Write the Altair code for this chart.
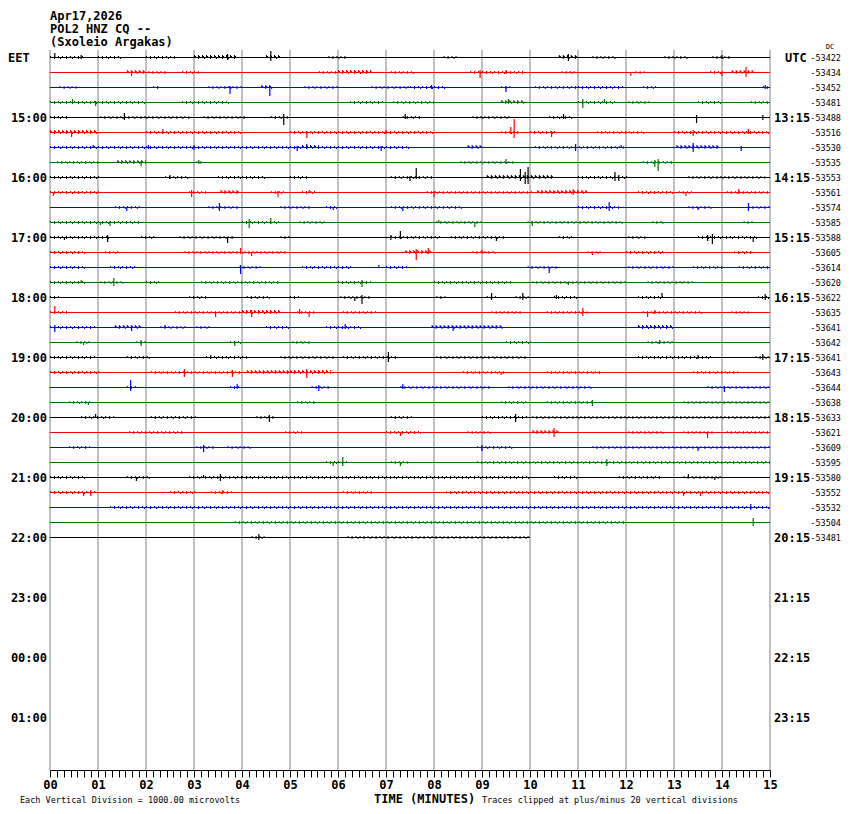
import altair as alt
import pandas as pd

# ---------------- data ----------------
TITLE_LINES = ["Apr17,2026", "POL2 HNZ CQ --", "(Sxoleio Argakas)"]
LEFT_LABELS = ["EET", "15:00", "16:00", "17:00", "18:00", "19:00", "20:00",
               "21:00", "22:00", "23:00", "00:00", "01:00"]
RIGHT_LABELS = ["UTC", "13:15", "14:15", "15:15", "16:15", "17:15", "18:15",
                "19:15", "20:15", "21:15", "22:15", "23:15"]
TRACE_VALUES = [-53422, -53434, -53452, -53481, -53488, -53516, -53530, -53535,
                -53553, -53561, -53574, -53585, -53588, -53605, -53614, -53620,
                -53622, -53635, -53641, -53642, -53641, -53643, -53644, -53638,
                -53633, -53621, -53609, -53595, -53580, -53552, -53532, -53504,
                -53481]
TRACE_COLORS = ["#000000", "#ff0000", "#0000ff", "#007000"]
TRACE_END = [15] * 32 + [10]
MINUTE_LABELS = list(range(16))

# noise windows per trace: (start minute, end minute, amplitude px)
BURSTS = [
    [(0, 0.7, 1), (1.0, 1.5, 1), (2.0, 2.6, 1), (3.0, 3.9, 2), (4.5, 4.8, 2), (5.8, 6.2, 1), (8.2, 8.5, 1), (10.6, 11.0, 2), (11.3, 11.8, 1), (12.8, 13.3, 1), (13.8, 14.2, 1)],
    [(1.6, 2.0, 2), (2.05, 2.45, 1), (2.75, 3.1, 1), (5.6, 6.0, 1), (6.0, 6.7, 2), (7.1, 7.6, 1), (8.75, 9.9, 1), (10.66, 11.0, 1), (12.2, 12.4, 1), (13.75, 14.0, 1), (14.2, 14.65, 2)],
    [(0.2, 0.55, 1), (2.15, 2.3, 1), (3.3, 4.0, 1), (4.4, 4.65, 2), (5.3, 6.0, 1), (6.7, 7.5, 1), (7.5, 8.25, 1), (9.4, 9.6, 1), (10.1, 11.0, 1), (11.0, 11.95, 1), (12.35, 12.65, 1), (14.85, 15, 1)],
    [(0, 2.0, 1), (2.75, 3.75, 1), (6.25, 6.95, 1), (7.15, 8.0, 1), (9.4, 9.9, 2), (11.0, 11.8, 1), (12.05, 12.5, 1), (13.5, 14.0, 1), (14.6, 15, 1)],
    [(0, 0.4, 1), (1.05, 2.9, 1), (3.2, 4.1, 1), (4.6, 4.95, 1), (7.35, 7.75, 1), (8.8, 9.6, 1), (10.4, 10.9, 1)],
    [(0, 1.0, 2), (2.0, 4.0, 1), (5.0, 7.5, 1), (7.5, 8.0, 1), (9.4, 9.8, 1), (10.0, 10.55, 1), (11.4, 12.4, 1), (13.0, 15, 1)],
    [(0, 7.5, 1), (5.25, 5.6, 2), (8.7, 9.0, 2), (10.1, 11.95, 1), (13.05, 13.95, 2)],
    [(0.15, 1.0, 1), (1.4, 2.0, 2), (3.05, 3.2, 1), (8.55, 9.65, 1), (12.35, 13.0, 1)],
    [(0, 1.05, 1), (2.4, 2.9, 1), (3.5, 4.5, 1), (5.0, 5.35, 1), (7.1, 8.0, 1), (9.1, 10.5, 2), (11.0, 12.05, 1), (13.3, 14.9, 1)],
    [(0, 1.05, 1), (2.9, 3.25, 1), (3.55, 3.95, 2), (4.6, 4.9, 1), (5.25, 5.55, 1), (7.85, 10.05, 1), (10.15, 11.2, 2), (12.25, 13.0, 1), (13.1, 13.4, 1), (14.1, 15, 1)],
    [(1.35, 1.9, 1), (3.3, 3.95, 1), (4.8, 5.45, 1), (5.75, 6.0, 1), (7.1, 8.6, 1), (11.0, 11.85, 1), (13.3, 13.8, 1), (14.55, 15, 1)],
    [(0, 1.9, 1), (4.0, 4.8, 1), (5.2, 5.75, 1), (8.05, 9.0, 1), (9.95, 11.95, 1), (12.55, 12.8, 1), (14.45, 14.65, 1)],
    [(0, 1.25, 1), (1.9, 2.2, 1), (2.7, 3.85, 1), (4.8, 5.0, 1), (7.1, 8.15, 1), (8.35, 9.5, 1), (10.6, 10.9, 1), (12.05, 12.4, 1), (13.5, 14.75, 1)],
    [(0, 0.75, 1), (1.15, 1.45, 1), (2.8, 4.9, 1), (7.4, 7.95, 2), (8.8, 9.3, 1), (11.2, 11.5, 1), (12.0, 12.8, 1), (14.25, 14.65, 1)],
    [(0, 0.75, 1), (1.25, 1.8, 1), (3.95, 4.4, 1), (5.25, 6.3, 1), (7.0, 7.45, 1), (9.95, 10.55, 1), (12.05, 13.0, 1), (13.4, 14.05, 1), (14.35, 15, 1)],
    [(0, 0.75, 1), (1.05, 1.55, 1), (2.0, 2.3, 1), (3.15, 4.8, 1), (6.0, 6.7, 1), (8.0, 9.6, 1), (10.05, 12.0, 1), (12.45, 13.4, 1)],
    [(0, 0.2, 1), (2.9, 3.25, 1), (4.1, 4.6, 1), (5.0, 5.2, 1), (6.05, 6.7, 1), (8.05, 8.25, 1), (9.1, 9.3, 1), (9.7, 10.0, 1), (10.5, 11.0, 1), (12.25, 12.8, 1), (14.75, 15, 1)],
    [(0, 0.4, 1), (2.6, 4.0, 1), (4.0, 4.8, 2), (5.15, 5.55, 1), (6.1, 6.8, 1), (9.2, 9.85, 1), (10.35, 11.2, 1), (12.35, 13.6, 1), (14.2, 14.55, 1)],
    [(0, 0.95, 1), (1.35, 1.9, 2), (2.3, 2.85, 1), (3.05, 3.35, 1), (4.5, 5.0, 1), (5.75, 6.5, 1), (7.95, 9.45, 2), (12.25, 13.0, 2)],
    [(0.55, 0.85, 1), (1.8, 2.0, 1), (3.75, 4.0, 1), (5.05, 5.45, 1), (9.5, 10.05, 1), (12.45, 13.0, 1)],
    [(0, 0.95, 1), (1.6, 2.1, 1), (3.25, 4.1, 1), (4.8, 5.95, 1), (6.1, 7.25, 1), (8.05, 9.95, 1), (12.25, 13.8, 1), (14.7, 15, 1)],
    [(0, 1.05, 1), (2.1, 4.0, 1), (4.1, 5.0, 2), (5.0, 5.85, 2), (8.6, 9.5, 1), (10.35, 11.5, 1), (13.4, 14.35, 1)],
    [(1.6, 1.8, 1), (3.75, 3.95, 1), (5.45, 5.85, 1), (7.3, 9.2, 1), (9.55, 11.3, 1), (13.7, 15, 1)],
    [(0.4, 0.85, 1), (5.15, 5.55, 1), (9.4, 9.95, 1), (10.35, 11.3, 1), (13.2, 15, 1)],
    [(0.65, 1.35, 1), (2.1, 3.05, 1), (4.3, 4.7, 1), (7.1, 7.55, 1), (9.0, 9.95, 1), (10.05, 15, 1)],
    [(1.65, 2.8, 1), (4.9, 5.25, 1), (7.0, 7.75, 1), (8.7, 9.2, 1), (10.05, 10.6, 2), (12.05, 12.8, 1), (13.2, 13.8, 1), (14.1, 15, 1)],
    [(0.4, 0.85, 1), (3.05, 3.45, 1), (3.7, 4.2, 1), (8.9, 9.65, 1), (11.3, 15, 1)],
    [(5.75, 6.2, 1), (7.1, 7.45, 1), (8.9, 15, 1)],
    [(0, 0.75, 1), (1.6, 2.1, 1), (2.9, 4.0, 1), (4.0, 10.0, 1), (10.5, 11.0, 1), (11.85, 12.75, 1), (13.2, 14.0, 1)],
    [(0, 0.95, 1), (2.5, 3.05, 1), (3.35, 3.8, 1), (6.1, 6.7, 1), (8.25, 15, 1)],
    [(1.25, 15, 1)],
    [(3.85, 12.0, 1)],
    [(4.2, 4.5, 1), (6.2, 10.0, 1)],
]

# spikes per trace: (minute, up px, down px)
SPIKES = [
    [(0.1, 4, 0), (0.65, 2, 1), (3.7, 3, 2), (4.6, 6, 3), (10.8, 3, 3), (14.0, 2, 1)],
    [(1.7, 1, 3), (8.96, 2, 5), (9.5, 2, 1), (12.1, 0, 3), (14.0, 1, 3), (14.5, 5, 4)],
    [(3.75, 1, 6), (4.58, 1, 8), (7.95, 2, 1), (9.5, 1, 4), (14.9, 2, 1)],
    [(0.47, 3, 1), (0.95, 1, 3), (9.55, 3, 1), (11.1, 3, 5), (11.55, 3, 0)],
    [(1.55, 4, 2), (4.87, 3, 7), (7.4, 3, 1), (10.7, 3, 1), (13.47, 2, 5), (14.85, 2, 2)],
    [(0.45, 1, 4), (2.35, 3, 1), (5.35, 1, 5), (7.0, 2, 1), (9.67, 13, 5), (9.6, 5, 1), (10.45, 1, 4), (13.4, 2, 3), (14.55, 3, 1)],
    [(0.9, 2, 0), (2.05, 2, 1), (3.0, 2, 2), (5.15, 1, 3), (5.35, 3, 1), (6.9, 1, 3), (10.95, 3, 3), (11.9, 2, 0), (13.4, 4, 4), (14.4, 1, 3)],
    [(1.9, 1, 3), (3.1, 2, 1), (9.5, 3, 1), (12.67, 3, 8), (12.6, 2, 4)],
    [(2.5, 2, 1), (7.63, 9, 1), (7.5, 1, 3), (9.8, 8, 3), (9.9, 5, 6), (9.96, 10, 6), (11.77, 5, 3), (11.85, 2, 3)],
    [(0.07, 0, 3), (2.95, 2, 4), (4.75, 1, 4), (5.4, 2, 0), (8.0, 1, 4), (10.9, 3, 2), (13.25, 0, 3), (14.35, 3, 1)],
    [(1.6, 0, 3), (3.53, 4, 3), (5.9, 0, 2), (7.35, 0, 3), (11.65, 5, 3), (13.5, 0, 2), (14.55, 4, 3)],
    [(1.05, 0, 2), (1.25, 1, 3), (4.15, 3, 5), (4.6, 4, 1), (8.1, 2, 0), (8.85, 0, 4), (10.05, 1, 3)],
    [(0.3, 0, 2), (1.2, 2, 4), (3.7, 0, 5), (7.1, 2, 2), (7.3, 6, 1), (9.3, 0, 3), (13.8, 3, 6), (13.7, 2, 3), (14.65, 0, 4)],
    [(3.97, 4, 1), (4.2, 0, 3), (7.63, 3, 7), (7.88, 4, 1), (9.0, 2, 0), (11.3, 0, 2)],
    [(3.97, 2, 6), (6.85, 2, 0), (10.4, 0, 5)],
    [(0.65, 2, 0), (1.33, 4, 3), (6.5, 2, 4), (10.8, 0, 2)],
    [(6.35, 0, 3), (6.5, 2, 6), (9.2, 4, 2), (9.85, 4, 2), (10.55, 2, 1), (12.75, 4, 0), (14.9, 3, 2)],
    [(0.1, 6, 0), (3.45, 0, 4), (4.2, 2, 4), (5.2, 3, 1), (5.4, 0, 4), (11.1, 4, 3), (12.45, 0, 4), (12.6, 2, 1)],
    [(0.1, 2, 4), (1.7, 1, 3), (2.4, 2, 0), (6.15, 3, 1), (8.4, 1, 3)],
    [(0.7, 0, 2), (1.9, 2, 3), (3.85, 1, 3), (12.7, 2, 1)],
    [(3.35, 2, 1), (7.05, 5, 4), (13.5, 2, 1), (14.85, 3, 2)],
    [(2.8, 3, 4), (3.8, 2, 4), (5.35, 3, 5), (9.4, 0, 2)],
    [(1.68, 7, 3), (3.9, 3, 1), (5.6, 2, 3), (7.35, 3, 1), (14.05, 1, 4)],
    [(0.8, 0, 2), (11.3, 2, 3)],
    [(0.95, 3, 0), (4.57, 2, 4), (9.7, 3, 4)],
    [(7.3, 0, 3), (10.5, 4, 4), (13.7, 0, 5)],
    [(3.2, 2, 4), (9.0, 2, 3), (13.5, 0, 3)],
    [(6.1, 5, 3), (5.9, 0, 3), (7.3, 0, 3), (11.6, 3, 3)],
    [(1.8, 0, 3), (3.2, 2, 0), (3.55, 3, 3), (13.3, 3, 0), (13.85, 0, 2)],
    [(0.7, 0, 3), (0.85, 2, 3), (3.6, 2, 1), (13.2, 0, 3), (13.55, 0, 3)],
    [(14.6, 3, 2)],
    [(14.65, 4, 3)],
    [(4.35, 3, 2)],
]

# ---------------- tables ----------------
ROW = 15  # minutes per trace line
traces = pd.DataFrame({
    "i": range(len(TRACE_VALUES)),
    "base": [i * ROW for i in range(len(TRACE_VALUES))],
    "color": [TRACE_COLORS[i % 4] for i in range(len(TRACE_VALUES))],
    "start": 0,
    "end": TRACE_END,
    "val": [str(v) for v in TRACE_VALUES],
})

noise_rows = []
for i, bl in enumerate(BURSTS):
    for (m0, m1, a) in bl:
        m1 = min(m1, TRACE_END[i])
        base = i * ROW
        col = TRACE_COLORS[i % 4]
        noise_rows.append({"m0": m0, "m1": m1, "y": base - a, "kind": "up", "color": col})
        noise_rows.append({"m0": m0, "m1": m1, "y": base + 1, "kind": "down", "color": col})
        if a >= 2:
            noise_rows.append({"m0": m0, "m1": m1, "y": base - 1, "kind": "mid", "color": col})
noise = pd.DataFrame(noise_rows)

spike_rows = []
for i, sl in enumerate(SPIKES):
    for (m, up, dn) in sl:
        base = i * ROW
        spike_rows.append({"m": m, "y0": base - up - 0.5, "y1": base + dn + 0.5,
                           "color": TRACE_COLORS[i % 4]})
spikes = pd.DataFrame(spike_rows)

hours = pd.DataFrame({"y": [k * 60 for k in range(len(LEFT_LABELS))],
                      "left": LEFT_LABELS, "right": RIGHT_LABELS})
grid = pd.DataFrame({"m": MINUTE_LABELS})
one = pd.DataFrame({"k": [0]})

# ---------------- scales ----------------
MINOR = [k / 7 for k in range(15 * 7 + 1)]
xaxis = alt.Axis(values=MINOR, grid=False, domain=True, domainColor="#000000",
                 domainWidth=1, ticks=True, tickColor="#000000", tickSize=7,
                 tickWidth=1, labelOverlap=False, labelFlush=False,
                 labelExpr="abs(datum.value - round(datum.value)) < 0.01 ? ((round(datum.value) < 10 ? '0' : '') + round(datum.value)) : ''",
                 labelFont="DejaVu Sans Mono", labelFontWeight="bold",
                 labelFontSize=12, labelColor="#000000", labelPadding=2, title=None)
xs = alt.Scale(domain=[0, 15], nice=False, zero=False)
ys = alt.Scale(domain=[-7.5, 712.5], nice=False, zero=False, reverse=True)


def X(field):
    return alt.X(field, type="quantitative", scale=xs, axis=xaxis)


def Y(field):
    return alt.Y(field, type="quantitative", scale=ys, axis=None)


gridl = alt.Chart(grid).mark_rule(color="#808080", strokeWidth=1).encode(
    x=X("m"), y=alt.value(0), y2=alt.value(720))

lines = alt.Chart(traces).mark_rule(strokeWidth=1).encode(
    x=X("start"), x2="end", y=Y("base"), color=alt.Color("color:N", scale=None))

noise_up = alt.Chart(noise).transform_filter("datum.kind == 'up'").mark_rule(
    strokeWidth=1, strokeDash=[1, 3]).encode(
    x=X("m0"), x2="m1", y=Y("y"), color=alt.Color("color:N", scale=None))
noise_mid = alt.Chart(noise).transform_filter("datum.kind == 'mid'").mark_rule(
    strokeWidth=1, strokeDash=[2, 2]).encode(
    x=X("m0"), x2="m1", y=Y("y"), color=alt.Color("color:N", scale=None))
noise_dn = alt.Chart(noise).transform_filter("datum.kind == 'down'").mark_rule(
    strokeWidth=1, strokeDash=[1, 5], strokeDashOffset=2).encode(
    x=X("m0"), x2="m1", y=Y("y"), color=alt.Color("color:N", scale=None))

spk = alt.Chart(spikes).mark_rule(strokeWidth=1.2).encode(
    x=X("m"), y=Y("y0"), y2="y1", color=alt.Color("color:N", scale=None))

FONT = "DejaVu Sans Mono"
left_lbl = alt.Chart(hours).transform_filter("datum.y > 0").mark_text(
    align="right", baseline="middle", font=FONT, fontWeight="bold", fontSize=12,
    color="#000000").encode(x=alt.value(-3), y=Y("y"), text="left:N")
eet_lbl = alt.Chart(hours).transform_filter("datum.y == 0").mark_text(
    align="left", baseline="middle", font=FONT, fontWeight="bold", fontSize=12,
    color="#000000").encode(x=alt.value(-42), y=Y("y"), text="left:N")
right_lbl = alt.Chart(hours).transform_filter("datum.y > 0").mark_text(
    align="left", baseline="middle", font=FONT, fontWeight="bold", fontSize=12,
    color="#000000").encode(x=alt.value(724), y=Y("y"), text="right:N")
utc_lbl = alt.Chart(hours).transform_filter("datum.y == 0").mark_text(
    align="left", baseline="middle", font=FONT, fontWeight="bold", fontSize=12,
    color="#000000").encode(x=alt.value(735), y=Y("y"), text="right:N")
vals = alt.Chart(traces).mark_text(
    align="right", baseline="middle", font=FONT, fontSize=8.5,
    color="#000000").encode(x=alt.value(791), y=Y("base"), text="val:N")
dc = alt.Chart(one).mark_text(
    align="center", baseline="middle", font=FONT, fontSize=7, color="#000000",
    text="DC").encode(x=alt.value(780), y=alt.value(-3))


def static_text(txt, x, y, size, bold):
    return alt.Chart(one).mark_text(
        align="left", baseline="middle", font=FONT, fontSize=size,
        fontWeight="bold" if bold else "normal", color="#000000", text=txt
    ).encode(x=alt.value(x), y=alt.value(y))


ttl1 = static_text(TITLE_LINES[0], 0, -34, 12, True)
ttl2 = static_text(TITLE_LINES[1], 0, -21, 12, True)
ttl3 = static_text(TITLE_LINES[2], 0, -8, 12, True)
foot1 = static_text("Each Vertical Division = 1000.00 microvolts", -30, 750, 8.5, False)
foot2 = static_text("TIME (MINUTES)", 324, 749, 12, True)
foot3 = static_text("Traces clipped at plus/minus 20 vertical divisions", 432, 750, 8.5, False)

chart = alt.layer(
    gridl, noise_up, noise_mid, noise_dn, lines, spk,
    left_lbl, eet_lbl, right_lbl, utc_lbl, vals, dc,
    ttl1, ttl2, ttl3, foot1, foot2, foot3,
).properties(
    width=720, height=720,
    padding={"left": 42, "top": 42, "right": 72, "bottom": 36},
    autosize=alt.AutoSizeParams(type="none"),
    background="#ffffff",
).configure_view(stroke=None)

chart.save("out.html", embed_options={"renderer": "svg", "actions": False})
